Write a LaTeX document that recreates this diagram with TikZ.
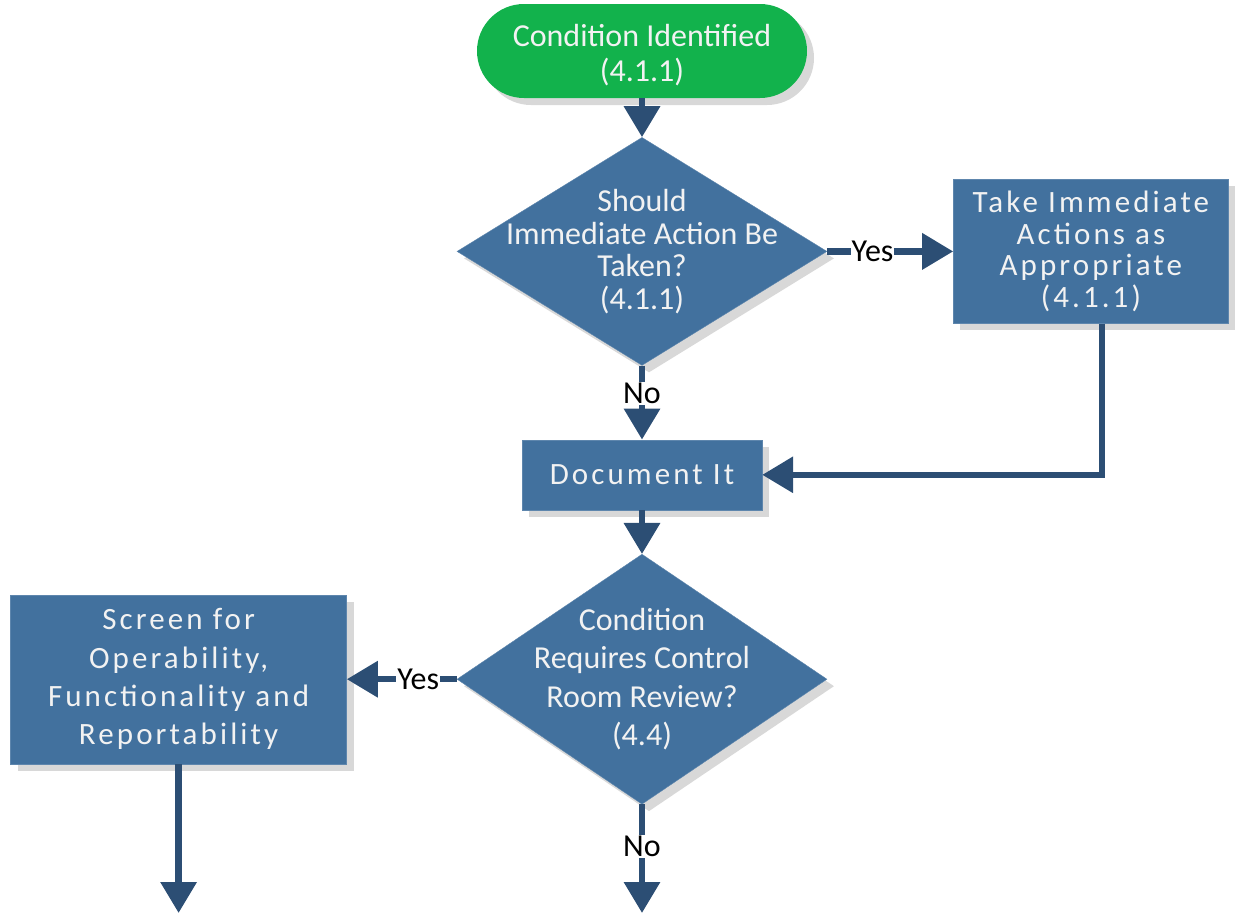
\documentclass[tikz,border=0pt]{standalone}
\usepackage{fontspec}
\setmainfont{Carlito}
\newfontfamily\spaced[LetterSpace=10]{Carlito}
\usepackage{xcolor}
\usepackage{tikz}
\usetikzlibrary{arrows.meta,positioning,shapes.geometric,shadows}
\definecolor{stepblue}{RGB}{66,113,158}
\definecolor{arrblue}{RGB}{44,78,116}
\definecolor{startgreen}{RGB}{18,178,76}

\begin{document}
\begin{tikzpicture}[
      x=1pt, y=-1pt,
      font=\fontsize{32}{35}\selectfont,
      shade/.style={drop shadow={shadow xshift=7pt, shadow yshift=-7pt, fill=black!30, opacity=0.5}},
      box/.style={rectangle, fill=stepblue, draw=stepblue!85!white, shade, text=white!95!black, align=center, inner sep=0pt},
      dec/.style={diamond, fill=stepblue, draw=stepblue!85!white, shade, inner sep=0pt, minimum width=370pt},
      dectext/.style={text=white!95!black, align=center},
      arr/.style={-{Triangle[width=35pt,length=31pt]}, line width=6.5pt, draw=arrblue},
      lbl/.style={fill=white, inner sep=1pt, text=black}
    ]
      \useasboundingbox (0,0) rectangle (1235,916);
      \node[rectangle, rounded corners=47pt, fill=startgreen, shade,
            minimum width=330pt, minimum height=94pt, inner sep=0pt,
            label={[dectext, yshift=-4pt]center:{Condition Identified\\(4.1.1)}}] (start) at (642,51) {};
      \node[dec, minimum height=228pt, below=39pt of start,
            label={[dectext, font=\fontsize{32}{32.5}\selectfont]center:{Should\\Immediate Action Be\\Taken?\\(4.1.1)}}] (d1) {};
      \node[box, minimum width=275pt, minimum height=144pt, right=126pt of d1, font=\spaced\fontsize{31}{31.5}\selectfont]
            (act) {Take Immediate\\Actions as\\Appropriate\\(4.1.1)};
      \node[box, minimum width=240pt, minimum height=70pt, below=74pt of d1, font=\spaced\fontsize{31}{35}\selectfont]
            (doc) {Document It};
      \node[dec, minimum height=250pt, below=44pt of doc,
            label={[dectext, font=\fontsize{32}{38.3}\selectfont]center:{Condition\\Requires Control\\Room Review?\\(4.4)}}] (d2) {};
      \node[box, minimum width=336pt, minimum height=169pt, left=110pt of d2, font=\spaced\fontsize{31}{38.3}\selectfont]
            (scr) {Screen for\\Operability,\\Functionality and\\Reportability};
      \coordinate (scrend) at (scr.south |- 0,913);
      \coordinate (d2end) at (d2.south |- 0,913);

      \draw[arr] (start) -- (d1);
      \draw[arr] (d1.east) -- node[lbl, pos=0.36] (yes1) {Yes} (act.west);
      \draw[arr] (d1.south) -- node[lbl, pos=0.38] (no1) {No} (doc.north);
      \draw[arr] ([xshift=11pt]act.south) |- (doc.east);
      \draw[arr] (doc) -- (d2);
      \draw[arr] (d2.west) -- node[lbl, pos=0.35] (yes2) {Yes} (scr.east);
      \draw[arr] (d2.south) -- node[lbl, pos=0.39] (no2) {No} (d2end);
      \draw[arr] (scr.south) -- (scrend);
    \end{tikzpicture}
\end{document}
